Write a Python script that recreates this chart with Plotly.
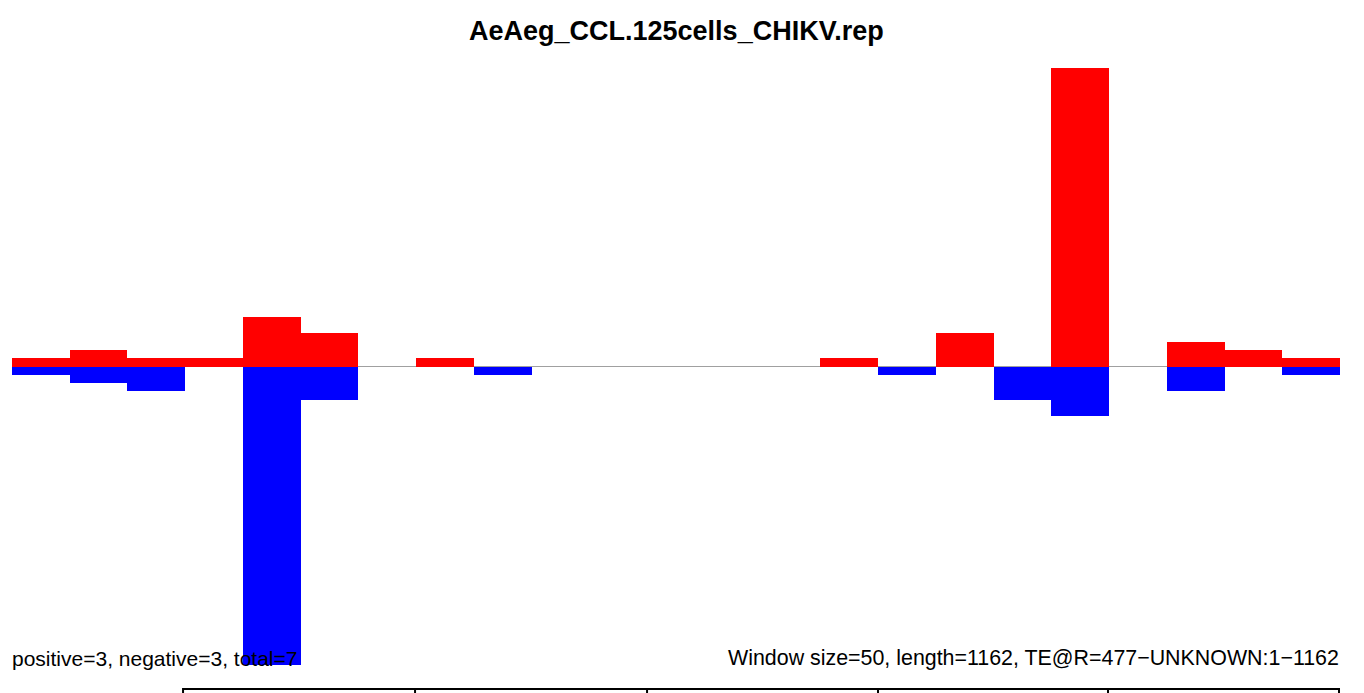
import plotly.graph_objects as go

# Data
window_size = 50
bin_starts = [i * window_size for i in range(23)]
positive = [1, 2, 1, 1, 6, 4, 0, 1, 0, 0, 0, 0, 0, 0, 1, 0, 4, 0, 36, 0, 3, 2, 1]
negative = [1, 2, 3, 0, 36, 4, 0, 0, 1, 0, 0, 0, 0, 0, 0, 1, 0, 4, 6, 0, 3, 0, 1]
title_text = "AeAeg_CCL.125cells_CHIKV.rep"
left_note = "positive=3, negative=3, total=7"
right_note = "Window size=50, length=1162, TE@R=477\u2212UNKNOWN:1\u22121162"

centers = [s + window_size / 2 for s in bin_starts]
ymax = max(max(positive), max(negative))

fig = go.Figure()
fig.add_trace(go.Bar(x=centers, y=positive, width=window_size, base=0,
                     marker=dict(color="#FF0000", line=dict(width=0)), showlegend=False))
fig.add_trace(go.Bar(x=centers, y=[-v for v in negative], width=window_size, base=0,
                     marker=dict(color="#0000FF", line=dict(width=0)), showlegend=False))

fig.add_shape(type="line", xref="x", yref="y", x0=0, x1=len(bin_starts) * window_size,
              y0=0, y1=0, line=dict(color="#A0A0A0", width=1), layer="below")

# bottom (cut-off) panel box
px0, px1 = 0.1288, 0.99925
ticks = [0.3035, 0.4782, 0.6521, 0.8253]
fig.add_shape(type="rect", xref="paper", yref="paper", x0=px0, x1=px1, y0=-0.3, y1=-0.0402,
              line=dict(color="black", width=2), layer="above")
for t in ticks:
    fig.add_shape(type="line", xref="paper", yref="paper", x0=t, x1=t, y0=-0.3, y1=-0.0402,
                  line=dict(color="black", width=2))

font_family = "Liberation Sans, Arial, sans-serif"
fig.add_annotation(text="<b>" + title_text + "</b>", xref="paper", yref="paper",
                   x=0.5, y=1.062, xanchor="center", yanchor="middle", showarrow=False,
                   font=dict(size=27, color="black", family=font_family))
fig.add_annotation(text=left_note, xref="paper", yref="paper", x=0, y=0.0117,
                   xanchor="left", yanchor="middle", showarrow=False, xshift=-2,
                   font=dict(size=21, color="black", family=font_family))
fig.add_annotation(text=right_note, xref="paper", yref="paper", x=1, y=0.0117,
                   xanchor="right", yanchor="middle", showarrow=False, xshift=1,
                   font=dict(size=21.4, color="black", family=font_family))

fig.update_layout(
    width=1364, height=693, autosize=False,
    margin=dict(l=4, r=32, t=60, b=36, pad=0),
    barmode="overlay", bargap=0,
    plot_bgcolor="white", paper_bgcolor="white",
    xaxis=dict(range=[0, len(bin_starts) * window_size], visible=False, fixedrange=True),
    yaxis=dict(range=[-ymax, ymax], visible=False, zeroline=False, fixedrange=True),
)

fig.write_html("out.html", config={"displayModeBar": False})
